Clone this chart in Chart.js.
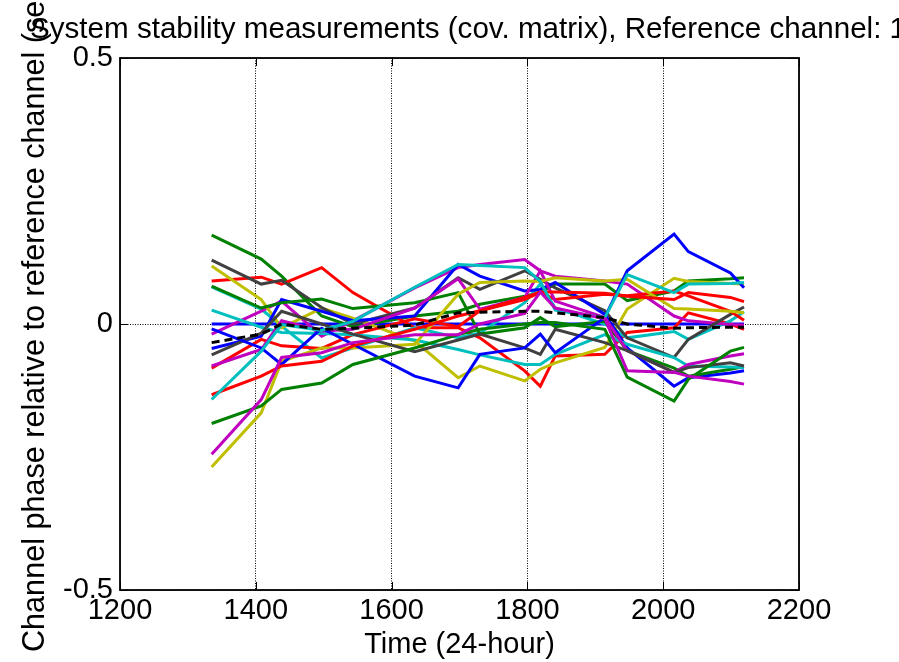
<!DOCTYPE html>
<html>
<head>
<meta charset="utf-8">
<script src="https://cdn.jsdelivr.net/npm/chart.js@4.4.1/dist/chart.umd.min.js"></script>
<style>
  html, body { margin: 0; padding: 0; background: #ffffff; }
  canvas { display: block; }
</style>
</head>
<body>
<canvas id="c" width="899" height="662"></canvas>
<script>
// ---- data ----
const times = [1335, 1408, 1438, 1497, 1543, 1634, 1698, 1730, 1796, 1819, 1841, 1914, 1947, 2016, 2037, 2099, 2119];

const ch01 = [0, 0, 0, 0, 0, 0, 0, 0, 0, 0, 0, 0, 0, 0, 0, 0, 0];
const ch02 = [0.167, 0.122, 0.090, 0.015, -0.005, 0.015, 0.024, 0.037, 0.052, 0.060, 0.075, 0.075, 0.044, 0.062, 0.081, 0.085, 0.087];
const ch03 = [0.081, 0.088, 0.075, 0.106, 0.059, -0.007, -0.007, -0.026, -0.088, -0.117, -0.060, -0.057, -0.016, -0.007, 0.021, 0.000, -0.010];
const ch04 = [0.070, 0.028, -0.004, -0.064, -0.045, -0.007, -0.026, -0.017, 0.040, 0.075, 0.030, 0.000, -0.026, -0.014, -0.029, 0.006, 0.023];
const ch05 = [-0.019, 0.024, 0.043, -0.023, 0.006, 0.068, 0.106, 0.112, 0.121, 0.100, 0.090, 0.081, 0.075, 0.015, 0.006, -0.001, -0.002];
const ch06 = [0.109, 0.046, -0.007, 0.030, 0.011, -0.032, -0.101, -0.079, -0.107, -0.085, -0.073, -0.044, 0.028, 0.086, 0.080, 0.076, 0.075];
const ch07 = [0.120, 0.075, 0.082, 0.031, 0.000, 0.030, 0.087, 0.065, 0.100, 0.084, 0.068, 0.025, -0.026, -0.063, -0.029, 0.018, 0.032];
const ch08 = [-0.046, -0.023, 0.046, 0.024, 0.006, 0.015, 0.112, 0.090, 0.062, 0.065, 0.078, 0.018, -0.045, -0.117, -0.101, -0.092, -0.088];
const ch09 = [0.071, 0.030, 0.040, 0.047, 0.029, 0.040, 0.059, -0.019, -0.007, 0.012, -0.005, 0.005, -0.050, -0.083, -0.098, -0.085, -0.080];
const ch10 = [-0.083, -0.029, -0.041, -0.046, -0.020, 0.010, -0.005, 0.025, 0.046, 0.060, 0.046, 0.056, 0.053, 0.062, 0.053, 0.024, 0.007];
const ch11 = [0.026, -0.006, -0.016, -0.018, -0.020, -0.030, -0.048, -0.058, -0.076, -0.076, -0.057, -0.020, -0.038, -0.063, -0.079, -0.081, -0.082];
const ch12 = [-0.079, -0.048, 0.006, -0.013, -0.010, 0.030, 0.085, 0.028, 0.050, 0.100, 0.043, 0.012, -0.050, -0.091, -0.076, -0.060, -0.056];
const ch13 = [-0.269, -0.167, -0.070, -0.045, -0.045, -0.038, 0.056, 0.078, 0.081, 0.080, 0.087, 0.081, 0.084, 0.029, 0.028, 0.024, 0.021];
const ch14 = [-0.058, -0.017, 0.024, 0.000, -0.019, -0.052, -0.030, -0.019, -0.045, -0.057, -0.010, -0.035, -0.050, -0.091, -0.082, -0.073, -0.079];
const ch15 = [-0.009, -0.045, -0.076, -0.008, -0.038, -0.098, -0.120, -0.057, -0.045, -0.019, -0.054, 0.012, 0.100, 0.169, 0.136, 0.096, 0.068];
const ch16 = [-0.187, -0.154, -0.123, -0.111, -0.076, -0.045, -0.020, -0.010, 0.000, 0.003, 0.003, -0.010, -0.100, -0.145, -0.104, -0.051, -0.044];
const ch17 = [-0.133, -0.098, -0.079, -0.070, -0.041, -0.010, 0.015, 0.025, 0.050, 0.060, 0.060, 0.058, 0.052, 0.046, 0.059, 0.050, 0.042];
const ch18 = [-0.142, -0.051, -0.001, -0.012, 0.005, 0.069, 0.112, 0.110, 0.106, 0.080, 0.026, 0.012, 0.093, 0.059, 0.075, 0.076, 0.078];
const ch19 = [-0.245, -0.142, -0.063, -0.054, -0.035, -0.020, -0.020, 0.000, 0.020, 0.060, 0.030, 0.010, -0.088, -0.091, -0.098, -0.108, -0.113];

const meanPhase = [-0.035, -0.019, 0.000, -0.010, -0.008, -0.002, 0.021, 0.022, 0.024, 0.024, 0.021, 0.012, 0.000, -0.008, -0.007, -0.006, -0.006];

const channels = [ch01, ch02, ch03, ch04, ch05, ch06, ch07, ch08, ch09, ch10, ch11, ch12, ch13, ch14, ch15, ch16, ch17, ch18, ch19];
const seriesColors = ['#0000FF', '#008000', '#FF0000', '#00BFBF', '#BF00BF', '#BFBF00', '#404040'];

const xTickValues = [1200, 1400, 1600, 1800, 2000, 2200];
const xTickLabels = ['1200', '1400', '1600', '1800', '2000', '2200'];
const yTickValues = [-0.5, 0, 0.5];
const yTickLabels = ['-0.5', '0', '0.5'];

const titleText = 'System stability measurements (cov. matrix), Reference channel: 1';
const xTitle = 'Time (24-hour)';
const yTitle = 'Channel phase relative to reference channel (seconds)';

// ---- chart ----
const FONT = "'Liberation Sans', Arial, Helvetica, sans-serif";
const toPoints = arr => times.map((t, j) => ({ x: t, y: arr[j] }));

const datasets = channels.map((arr, i) => ({
  label: 'Channel ' + (i + 1),
  data: toPoints(arr),
  borderColor: seriesColors[i % seriesColors.length],
  borderWidth: 3,
  pointRadius: 0,
  tension: 0,
  fill: false,
  order: channels.length - i + 1
}));
datasets.push({
  label: 'Mean',
  data: toPoints(meanPhase),
  borderColor: '#000000',
  borderWidth: 3,
  borderDash: [8, 5],
  pointRadius: 0,
  tension: 0,
  fill: false,
  order: 0
});

const textPlugin = {
  id: 'matlabDecor',
  beforeDraw(chart) {
    const ctx = chart.ctx;
    ctx.save();
    ctx.fillStyle = '#ffffff';
    ctx.fillRect(0, 0, chart.width, chart.height);
    ctx.restore();
  },
  afterDraw(chart) {
    const { ctx, chartArea: a, scales } = chart;
    ctx.save();
    // axes box
    ctx.strokeStyle = '#000000';
    ctx.lineWidth = 1.8;
    ctx.setLineDash([]);
    ctx.strokeRect(a.left, a.top, a.right - a.left, a.bottom - a.top);
    // inward ticks
    const tl = 8;
    ctx.lineWidth = 1;
    ctx.beginPath();
    xTickValues.forEach(v => {
      const px = Math.round(scales.x.getPixelForValue(v)) + 0.5;
      ctx.moveTo(px, a.bottom); ctx.lineTo(px, a.bottom - tl);
      ctx.moveTo(px, a.top); ctx.lineTo(px, a.top + tl);
    });
    yTickValues.forEach(v => {
      const py = Math.round(scales.y.getPixelForValue(v)) + 0.5;
      ctx.moveTo(a.left, py); ctx.lineTo(a.left + tl, py);
      ctx.moveTo(a.right, py); ctx.lineTo(a.right - tl, py);
    });
    ctx.stroke();

    // y label (rotated, anchored like the reference: starts near the bottom)
    ctx.fillStyle = '#000000';
    ctx.font = '30.6px ' + FONT;
    ctx.textBaseline = 'alphabetic';
    ctx.textAlign = 'left';
    ctx.save();
    ctx.translate(44, 652);
    ctx.rotate(-Math.PI / 2);
    ctx.fillText(yTitle, 0, 0);
    ctx.restore();

    // title (drawn after, on top)
    ctx.font = '29.6px ' + FONT;
    ctx.textAlign = 'left';
    ctx.fillText(titleText, 30, 38);
    ctx.restore();
  }
};

new Chart(document.getElementById('c'), {
  type: 'line',
  data: { datasets },
  plugins: [textPlugin],
  options: {
    responsive: false,
    animation: false,
    devicePixelRatio: 1,
    layout: { padding: { left: 0, right: 100, top: 58, bottom: 0 } },
    plugins: {
      legend: { display: false },
      tooltip: { enabled: false },
      title: { display: false }
    },
    scales: {
      x: {
        type: 'linear',
        min: 1200,
        max: 2200,
        afterBuildTicks: s => { s.ticks = xTickValues.map(v => ({ value: v })); },
        afterFit: s => { s.height = 72; },
        ticks: {
          color: '#000000',
          font: { family: FONT, size: 29 },
          padding: 4,
          maxRotation: 0,
          autoSkip: false,
          callback: v => xTickLabels[xTickValues.indexOf(v)]
        },
        grid: { color: '#000000', lineWidth: 1, drawTicks: false },
        border: { display: false, dash: [1, 1.5] },
        title: {
          display: true,
          text: xTitle,
          color: '#000000',
          font: { family: FONT, size: 29, lineHeight: 1.2 },
          padding: { top: 0, bottom: 0 }
        }
      },
      y: {
        type: 'linear',
        min: -0.5,
        max: 0.5,
        afterBuildTicks: s => { s.ticks = yTickValues.map(v => ({ value: v })); },
        afterFit: s => { s.width = 120; },
        ticks: {
          color: '#000000',
          font: { family: FONT, size: 29 },
          padding: 7,
          autoSkip: false,
          callback: v => yTickLabels[yTickValues.indexOf(v)]
        },
        grid: { color: '#000000', lineWidth: 1, drawTicks: false },
        border: { display: false, dash: [1, 1.5] },
        title: { display: false }
      }
    }
  }
});
</script>
</body>
</html>
